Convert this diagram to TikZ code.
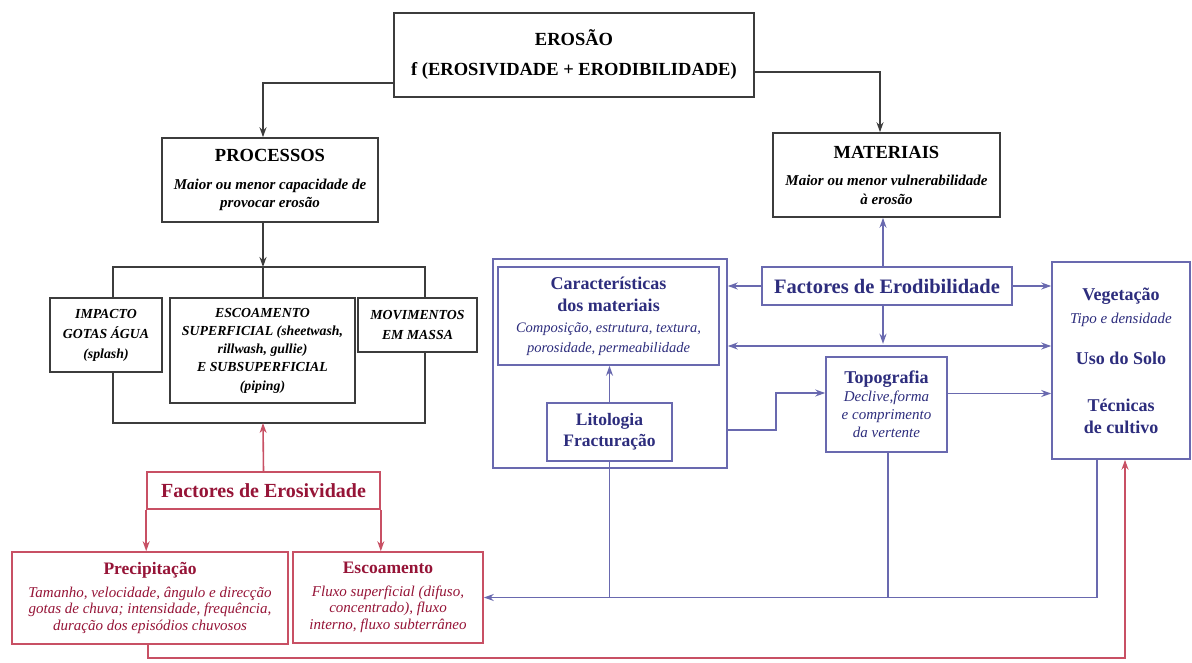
\documentclass[tikz,border=0pt]{standalone}
\usepackage{fontspec}
\setmainfont{Liberation Serif}
\usetikzlibrary{arrows.meta,calc}
\definecolor{kline}{RGB}{60,60,60}
\definecolor{rtext}{RGB}{150,20,55}
\definecolor{rline}{RGB}{200,80,100}
\definecolor{btext}{RGB}{45,45,125}
\definecolor{bline}{RGB}{105,105,175}
\begin{document}
\begin{tikzpicture}[x=1pt,y=-1pt,
  bx/.style 2 args={draw, line width=1.6pt, inner sep=1pt, align=center, minimum width=#1, minimum height=#2},
  kbox/.style={draw=kline, text=black},
  rbox/.style={draw=rline, text=rtext},
  bbox/.style={draw=bline, text=btext},
  hd/.style={font=\bfseries\fontsize{17.5}{21}\selectfont},
  kit/.style={font=\bfseries\itshape\fontsize{15}{18.5}\selectfont},
  sm/.style={font=\bfseries\itshape\fontsize{13.8}{20}\selectfont},
  it/.style={font=\itshape\fontsize{15}{16.5}\selectfont},
  tip/.style={-{Stealth[length=10pt,width=7pt]}},
  kl/.style={draw=kline, line width=1.6pt},
  rl/.style={draw=rline, line width=1.6pt},
  bl/.style={draw=bline, line width=1.6pt},
]
\useasboundingbox[fill=white] (0,0) rectangle (1192,663);

% black part
\node[bx={360pt}{84pt}, kbox, font=\bfseries\fontsize{18.5}{22}\selectfont] (ero) at (574,55) {EROSÃO\\[8pt] f (EROSIVIDADE + ERODIBILIDADE)};
\node[bx={216pt}{84pt}, kbox, kit] (proc) at (270,180) {{\fontsize{18.5}{21}\selectfont\upshape PROCESSOS}\\[9pt] Maior ou menor capacidade de\\ provocar erosão};
\node[bx={227pt}{84pt}, kbox, kit] (mat) at (886.5,175) {{\fontsize{18.5}{21}\selectfont\upshape MATERIAIS}\\[9pt] Maior ou menor vulnerabilidade\\ à erosão};
\node[bx={112pt}{74pt}, kbox, sm] (imp) at (106,335) {IMPACTO\\ GOTAS ÁGUA\\ (splash)};
\node[bx={185pt}{105pt}, kbox, font=\bfseries\itshape\fontsize{13.8}{18.3}\selectfont] (esc) at (262.5,350.5) {ESCOAMENTO\\ SUPERFICIAL (sheetwash,\\ rillwash, gullie)\\ E SUBSUPERFICIAL\\ (piping)};
\node[bx={119pt}{54pt}, kbox, sm] (mov) at (417.5,325) {MOVIMENTOS\\ EM MASSA};

\coordinate (bt) at (263,267);
\coordinate (bb) at (263,423);
\draw[kl, tip] ($(ero.west)+(0,28)$) -| ([xshift=-7pt]proc.north);
\draw[kl, tip] ($(ero.east)+(0,17)$) -| ([xshift=-6.5pt]mat.north);
\draw[kl, tip] ([xshift=-7pt]proc.south) -- (bt);
\draw[kl] ([xshift=7pt]imp.north) |- (bt) -| ([xshift=7.5pt]mov.north);
\draw[kl] (bt) -- (bt |- esc.north);
\draw[kl] ([xshift=7pt]imp.south) |- (bb) -| ([xshift=7.5pt]mov.south);

% red part
\node[bx={233pt}{37pt}, rbox, font=\bfseries\fontsize{20}{23}\selectfont] (fero) at (263.5,490.5) {Factores de Erosividade};
\node[bx={276pt}{92pt}, rbox, it] (prec) at (150,598) {{\upshape\bfseries\fontsize{17.5}{20}\selectfont Precipitação}\\[6pt] Tamanho, velocidade, ângulo e direcção\\ gotas de chuva; intensidade, frequência,\\ duração dos episódios chuvosos};
\node[bx={190pt}{91pt}, rbox, it] (escr) at (388,597.5) {{\upshape\bfseries\fontsize{17.5}{20}\selectfont Escoamento}\\[6pt] Fluxo superficial (difuso,\\ concentrado), fluxo\\ interno, fluxo subterrâneo};

\draw[rl, tip] (fero.north) -- (bb);
\draw[rl, tip] (fero.south west) -- (fero.south west |- prec.north);
\draw[rl, tip] (fero.south east) -- (fero.south east |- escr.north);

% blue part
\node[bx={234pt}{209pt}, bbox] (outer) at (610,363.5) {};
\node[bx={221pt}{98pt}, bbox, font=\itshape\fontsize{14.5}{20}\selectfont] (car) at (608.5,316) {{\upshape\bfseries\fontsize{18}{21}\selectfont Características}\\[2pt] {\upshape\bfseries\fontsize{18}{21}\selectfont dos materiais}\\[1pt] Composição, estrutura, textura,\\ porosidade, permeabilidade};
\node[bx={125pt}{58pt}, bbox, hd] (lit) at (609.5,432) {Litologia\\ Fracturação};
\node[bx={250pt}{38pt}, bbox, font=\bfseries\fontsize{20.5}{23}\selectfont] (ferod) at (887,286) {Factores de Erodibilidade};
\node[bx={121pt}{95pt}, bbox, font=\itshape\fontsize{15}{18}\selectfont] (topo) at (886.5,404.5) {{\upshape\bfseries\fontsize{18}{21}\selectfont Topografia}\\ Declive,forma\\ e comprimento\\ da vertente};
\node[bx={138pt}{197pt}, bbox, font=\bfseries\fontsize{18}{21}\selectfont] (veg) at (1121,360.5) {Vegetação\\[2pt] {\itshape\mdseries\fontsize{15}{17}\selectfont Tipo e densidade}\\[20pt] Uso do Solo\\[26pt] Técnicas\\[1pt] de cultivo};

\draw[bl, tip] ([xshift=-4pt]ferod.north) -- ([xshift=-3.5pt]mat.south);
\draw[bl, tip] (ferod.west) -- (ferod.west -| outer.east);
\draw[bl, tip] (ferod.east) -- (ferod.east -| veg.west);
\draw[bl, tip] ([xshift=-4pt]ferod.south) -- ++(0,38);
\draw[bl, {Stealth[length=10pt,width=7pt]}-{Stealth[length=10pt,width=7pt]}] ($(outer.east)+(0,-17.5)$) -- ($(outer.east -| veg.west)+(0,-17.5)$);
\draw[bl, tip] ($(topo.east)+(0,-11)$) -- ($(topo.east -| veg.west)+(0,-11)$);
\draw[bl, tip] ($(outer.east)+(0,66.5)$) -- ++(48,0) |- ($(topo.west)+(0,-11.5)$);
\draw[bl, tip] (lit.north) -- (lit.north |- car.south);
\draw[bl] (lit.south) -- (lit.south |- escr.east);
\draw[bl] ([xshift=1.5pt]topo.south) -- ([xshift=1.5pt]topo.south |- escr.east);
\draw[bl, tip] ([xshift=-24pt]veg.south) |- (escr.east);

% red feedback line
\draw[rl, tip] ([xshift=-2pt]prec.south) -- ++(0,13) -| ([xshift=4pt]veg.south);
\end{tikzpicture}
\end{document}
